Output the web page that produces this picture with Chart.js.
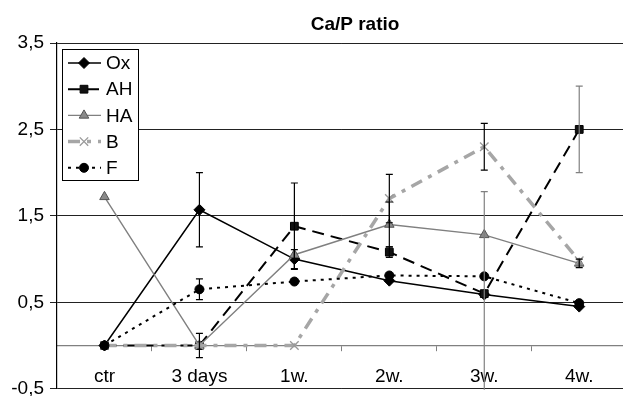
<!DOCTYPE html>
<html>
<head>
<meta charset="utf-8">
<script src="https://cdn.jsdelivr.net/npm/chart.js@4.4.1/dist/chart.umd.min.js"></script>
<style>
    html, body { margin: 0; padding: 0; background: #fff; overflow: hidden; }
    #wrap { width: 623px; height: 396px; overflow: hidden; }
</style>
</head>
<body>
<div id="wrap"><canvas id="chart" width="634" height="396"></canvas></div>
<script>
var chartTitle = 'Ca/P ratio';
var categories = ['ctr', '3 days', '1w.', '2w.', '3w.', '4w.'];
var yTicks = [-0.5, 0.5, 1.5, 2.5, 3.5];

var seriesLabels = ['Ox', 'AH', 'HA', 'B', 'F'];
var oxValues = [0, 1.57, 1.0, 0.75, 0.59, 0.45];
var ahValues = [0, 0, 1.38, 1.08, 0.6, 2.5];
var haValues = [1.72, 0, 1.05, 1.4, 1.28, 0.95];
var bValues  = [0, 0, 0, 1.7, 2.3, 0.98];
var fValues  = [0, 0.65, 0.74, 0.81, 0.8, 0.49];

// +/- error of each point (0 = no bar)
var oxErrors = [0, 0.43, 0.11, 0, 0, 0];
var ahErrors = [0, 0, 0.5, 0.06, 1.18, 0.5];
var haErrors = [0, 0.14, 0, 0.26, 0, 0.05];
var bErrors  = [0, 0, 0, 0.28, 0.27, 0];
var fErrors  = [0, 0.12, 0, 0, 0, 0];

var FONT = '"Liberation Sans", Arial, Helvetica, sans-serif';

function fmt(v) {
    return String(v).replace('.', ',');
}

function drawMarker(ctx, ds, x, y) {
    ctx.save();
    ctx.fillStyle = ds.pointBackgroundColor;
    ctx.strokeStyle = ds.pointBorderColor;
    ctx.lineWidth = ds.pointBorderWidth;
    ctx.setLineDash([]);
    var r = ds.pointRadius;
    ctx.beginPath();
    if (ds.pointStyle == 'rectRot') {
        ctx.moveTo(x, y - r); ctx.lineTo(x + r, y); ctx.lineTo(x, y + r); ctx.lineTo(x - r, y); ctx.closePath();
        ctx.fill(); ctx.stroke();
    }
    else if (ds.pointStyle == 'rect') {
        var s = r * Math.SQRT1_2;
        ctx.rect(x - s, y - s, 2 * s, 2 * s);
        ctx.fill(); ctx.stroke();
    }
    else if (ds.pointStyle == 'triangle') {
        ctx.moveTo(x, y - r); ctx.lineTo(x + r * 0.87, y + r * 0.5); ctx.lineTo(x - r * 0.87, y + r * 0.5); ctx.closePath();
        ctx.fill(); ctx.stroke();
    }
    else if (ds.pointStyle == 'crossRot') {
        var c = r * 0.7;
        ctx.moveTo(x - c, y - c); ctx.lineTo(x + c, y + c);
        ctx.moveTo(x + c, y - c); ctx.lineTo(x - c, y + c);
        ctx.stroke();
    }
    else {
        ctx.arc(x, y, r, 0, Math.PI * 2);
        ctx.fill(); ctx.stroke();
    }
    ctx.restore();
}

var errorBarPlugin = {
    id: 'errorBars',
    afterDatasetsDraw: function(chart) {
        var ctx = chart.ctx;
        var yScale = chart.scales.y;
        var area = chart.chartArea;
        ctx.save();
        ctx.beginPath();
        ctx.rect(area.left, area.top, area.right - area.left, area.bottom - area.top + 1);
        ctx.clip();
        ctx.lineWidth = 1.2;
        ctx.setLineDash([]);
        chart.data.datasets.forEach(function(ds, i) {
            var meta = chart.getDatasetMeta(i);
            ds.errors.forEach(function(e, j) {
                if (!e) return;
                var x = meta.data[j].x;
                var top = yScale.getPixelForValue(ds.data[j] + e);
                var bot = yScale.getPixelForValue(ds.data[j] - e);
                ctx.strokeStyle = ds.errorColors ? ds.errorColors[j] : '#000';
                ctx.beginPath();
                ctx.moveTo(x, top); ctx.lineTo(x, bot);
                ctx.moveTo(x - 3.5, top); ctx.lineTo(x + 3.5, top);
                ctx.moveTo(x - 3.5, bot); ctx.lineTo(x + 3.5, bot);
                ctx.stroke();
            });
        });
        ctx.restore();
    }
};

var legendPlugin = {
    id: 'boxLegend',
    afterDraw: function(chart) {
        var ctx = chart.ctx;
        var area = chart.chartArea;
        var bx = area.left + 5, by = area.top + 6, bw = 76, bh = 131;
        ctx.save();
        ctx.fillStyle = '#fff';
        ctx.fillRect(bx, by, bw, bh);
        ctx.strokeStyle = '#000';
        ctx.lineWidth = 1;
        ctx.strokeRect(bx + 0.5, by + 0.5, bw, bh);
        chart.data.datasets.forEach(function(ds, i) {
            var y = by + 14 + i * 26.2;
            ctx.save();
            ctx.strokeStyle = ds.borderColor;
            ctx.lineWidth = ds.borderWidth;
            ctx.setLineDash(ds.borderDash || []);
            ctx.beginPath();
            ctx.moveTo(bx + 6, y); ctx.lineTo(bx + 39, y);
            ctx.stroke();
            ctx.restore();
            drawMarker(ctx, ds, bx + 22, y);
            ctx.fillStyle = '#000';
            ctx.font = '19px ' + FONT;
            ctx.textBaseline = 'middle';
            ctx.fillText(ds.label, bx + 44, y + 1);
        });
        ctx.restore();
    }
};

var titlePlugin = {
    id: 'ownTitle',
    afterDraw: function(chart) {
        var ctx = chart.ctx;
        ctx.save();
        ctx.fillStyle = '#000';
        ctx.font = 'bold 19px ' + FONT;
        ctx.textAlign = 'center';
        ctx.textBaseline = 'middle';
        ctx.fillText(chartTitle, 355, 25);
        ctx.restore();
    }
};

function makeSet(label, values, errors, style) {
    var ds = {
        label: label,
        data: values,
        errors: errors,
        tension: 0,
        fill: false
    };
    for (var k in style) ds[k] = style[k];
    return ds;
}

var datasets = [
    makeSet(seriesLabels[0], oxValues, oxErrors, {
        borderColor: '#000', borderWidth: 1.5, order: 5,
        pointStyle: 'rectRot', pointRadius: 5.5, pointBackgroundColor: '#000', pointBorderColor: '#000', pointBorderWidth: 1
    }),
    makeSet(seriesLabels[1], ahValues, ahErrors, {
        borderColor: '#000', borderWidth: 2, borderDash: [12, 7], order: 4,
        errorColors: ['#000', '#000', '#000', '#000', '#808080', '#808080'],
        pointStyle: 'rect', pointRadius: 5.5, pointBackgroundColor: '#111', pointBorderColor: '#000', pointBorderWidth: 1
    }),
    makeSet(seriesLabels[2], haValues, haErrors, {
        borderColor: '#808080', borderWidth: 1.4, order: 3,
        pointStyle: 'triangle', pointRadius: 5.5, pointBackgroundColor: '#8a8a8a', pointBorderColor: '#555', pointBorderWidth: 1
    }),
    makeSet(seriesLabels[3], bValues, bErrors, {
        borderColor: '#a6a6a6', borderWidth: 3.5, borderDash: [12, 7, 4, 7], order: 2,
        pointStyle: 'crossRot', pointRadius: 6, pointBackgroundColor: '#a6a6a6', pointBorderColor: '#999', pointBorderWidth: 1.3
    }),
    makeSet(seriesLabels[4], fValues, fErrors, {
        borderColor: '#000', borderWidth: 2, borderDash: [3, 5], order: 1,
        pointStyle: 'circle', pointRadius: 4.5, pointBackgroundColor: '#000', pointBorderColor: '#000', pointBorderWidth: 1
    })
];

var ctx = document.getElementById('chart').getContext('2d');
var chart = new Chart(ctx, {
    type: 'line',
    data: { labels: categories, datasets: datasets },
    plugins: [errorBarPlugin, legendPlugin, titlePlugin],
    options: {
        responsive: false,
        animation: false,
        layout: { padding: { top: 43, right: 0, bottom: 7, left: 0 } },
        plugins: {
            legend: { display: false },
            title: { display: false },
            tooltip: { enabled: false }
        },
        scales: {
            x: {
                type: 'category',
                position: { y: 0 },
                offset: true,
                grid: {
                    offset: true,
                    drawOnChartArea: false,
                    drawTicks: true,
                    tickLength: 5,
                    color: '#808080'
                },
                border: { display: true, color: '#808080', width: 1.2 },
                ticks: {
                    color: '#000',
                    padding: 15,
                    maxRotation: 0,
                    autoSkip: false,
                    font: { family: FONT, size: 19 }
                }
            },
            y: {
                min: -0.5,
                max: 3.5,
                afterBuildTicks: function(scale) {
                    scale.ticks = yTicks.map(function(v) { return { value: v }; });
                },
                afterFit: function(scale) {
                    scale.width = 57;
                },
                grid: {
                    color: '#222',
                    lineWidth: 1,
                    tickLength: 7,
                    drawTicks: true
                },
                border: { display: true, color: '#000', width: 1.2 },
                ticks: {
                    color: '#000',
                    padding: 6,
                    font: { family: FONT, size: 19, lineHeight: 0.1 },
                    callback: function(v) { return fmt(v); }
                }
            }
        }
    }
});
</script>
</body>
</html>
